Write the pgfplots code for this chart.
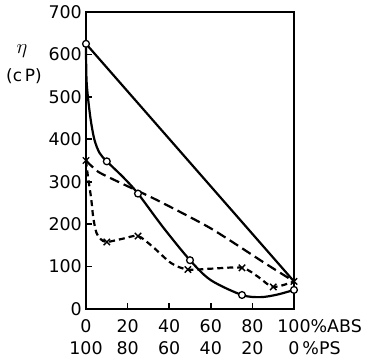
\documentclass[border=0pt]{standalone}
\usepackage{pgfplots}
\pgfplotsset{compat=1.18}
\usepackage{fontspec}
\setmainfont{DejaVu Sans}
\begin{document}
\begin{tikzpicture}
\useasboundingbox (-86bp,-53bp) rectangle (280bp,309bp);
\begin{axis}[
  at={(0,0)}, anchor=origin,
  scale only axis, width=208bp, height=297bp,
  xmin=0, xmax=100, ymin=0, ymax=700,
  axis line style={line width=2bp},
  xtick={0,20,40,60,80,100}, ytick={0,100,200,300,400,500,600,700},
  xtick pos=bottom, ytick pos=left, tick align=inside,
  major tick length=6bp, tick style={line width=1.6bp, black},
  /pgf/number format/assume math mode=true,
  ticklabel style={font=\fontsize{17.5}{22}\selectfont},
  yticklabel style={inner sep=1bp, xshift=-3bp},
  xticklabels={{0\\100},{20\\80},{40\\60},{60\\40},{80\\20},{100\rlap{\%ABS}\\0\rlap{\,\%PS}}},
  xticklabel style={align=center, inner sep=0pt, yshift=-10bp},
  clip=false,
]
% straight line
\addplot[black, line width=2.2bp] coordinates {(0,625) (100,65)};
% solid curve
\addplot[black, line width=2.2bp, smooth, tension=0.5] coordinates {
(0,625) (0.3,535) (2,455) (4,400) (6.5,368) (10,348) (18,310) (25,272) (37,193) (50,115) (60,68) (75,33) (84,28) (92,34) (100,45)};
\addplot[only marks, mark=*, mark size=3.4bp, mark options={fill=white, draw=black, line width=1.3bp}] coordinates {
(0,625) (10,348) (25,272) (50,115) (75,33) (100,45)};
% long dashed
\addplot[black, line width=2.2bp, dash pattern=on 10bp off 5bp, smooth, tension=0.4] coordinates {
(0,350) (6,323) (18,294) (34,257) (60,190) (86,108) (100,65)};
% short dashed
\addplot[black, line width=2.2bp, dash pattern=on 6bp off 4bp, smooth, tension=0.5] coordinates {
(0,350) (1,310) (2.5,260) (3.5,215) (5,180) (7,165) (10,158) (18,166) (25,172) (32,147) (41,108) (49,93) (60,95) (75,97) (83,75) (90,52) (100,65)};
\addplot[only marks, mark=x, mark size=4.5bp, mark options={line width=1.4bp, black}] coordinates {
(0,350) (10,158) (25,172) (49,93) (75,97) (90,52) (100,65)};
\node[font=\fontsize{21}{24}\selectfont] at (axis cs:0,0) [xshift=-64bp, yshift=258bp] {$\eta$};
\node[font=\fontsize{17}{20}\selectfont] at (axis cs:0,0) [xshift=-62bp, yshift=233bp] {(c\,P)};
\end{axis}
\end{tikzpicture}
\end{document}
